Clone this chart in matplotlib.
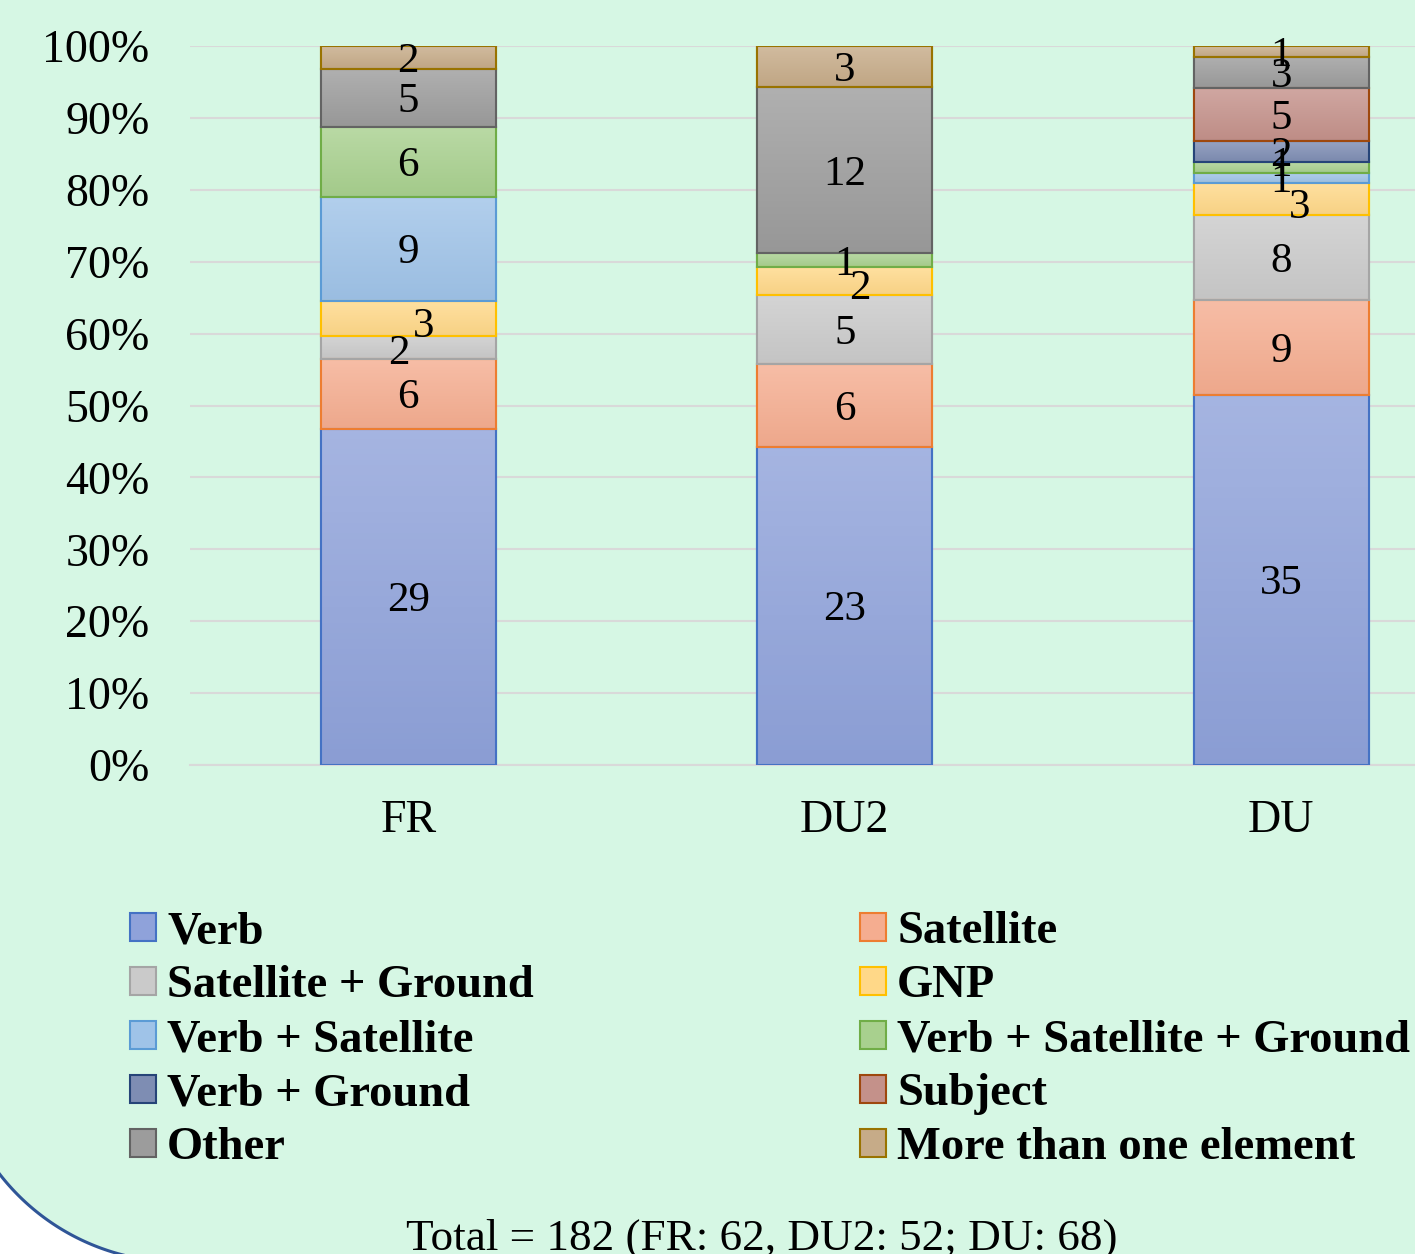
import numpy as np
import matplotlib
matplotlib.use('Agg')
import matplotlib.pyplot as plt
from matplotlib.patches import Patch, Polygon
from matplotlib.transforms import IdentityTransform
from matplotlib.colors import to_rgb

# data (counts per category)
categories = ['FR', 'DU2', 'DU']
series = ['Verb', 'Satellite', 'Satellite + Ground', 'GNP', 'Verb + Satellite',
          'Verb + Satellite + Ground', 'Verb + Ground', 'Subject', 'Other',
          'More than one element']
verb = [29, 23, 35]
satellite = [6, 6, 9]
sat_ground = [2, 5, 8]
gnp = [3, 2, 3]
verb_sat = [9, 0, 1]
verb_sat_ground = [6, 1, 1]
verb_ground = [0, 0, 2]
subject = [0, 0, 5]
other = [5, 12, 3]
more_than_one = [2, 3, 1]
footer = 'Total = 182 (FR: 62, DU2: 52; DU: 68)'

values = [verb, satellite, sat_ground, gnp, verb_sat, verb_sat_ground,
          verb_ground, subject, other, more_than_one]

fills = ['#8fa2da', '#f5ad90', '#cacaca', '#ffd888', '#9fc3e8', '#a8d08e',
         '#7e8db3', '#c4918a', '#9c9c9c', '#c6ab88']
edges = ['#4472c4', '#ed7d31', '#a5a5a5', '#ffc000', '#5b9bd5', '#70ad47',
         '#264478', '#9e480e', '#636363', '#997300']

# nudges (px) for crowded data labels: (category index, series index) -> (dx, dy)
nudges = {(0, 2): (-9, -2), (0, 3): (15, -4), (1, 3): (15, -4), (2, 3): (18, -4),
          (2, 5): (0, 6)}

bg = '#d6f7e4'
serif = ['Liberation Serif', 'DejaVu Serif']
plt.rcParams['font.family'] = serif

W, H = 1415, 1254
fig = plt.figure(figsize=(14.15, 12.54), dpi=100, facecolor=bg)

# white slide corner with a rounded blue border at the lower left
cx, cy, r = 179, H - 1035, 227
th = np.linspace(np.pi, 1.5 * np.pi, 100)
arc = np.column_stack([cx + r * np.cos(th), cy + r * np.sin(th)])
corner = np.vstack([arc, [[cx - r, cy - r]]])
fig.patches.append(Polygon(corner, closed=True, transform=IdentityTransform(),
                           facecolor='white', edgecolor='none', zorder=-10))
fig.lines.append(plt.Line2D(arc[:, 0], arc[:, 1], transform=IdentityTransform(),
                            color='#2f5597', lw=2.2, zorder=-9))

ax = fig.add_axes([190 / W, (H - 765) / H, 1309.5 / W, 719 / H])
ax.set_facecolor('none')

x = np.arange(len(categories))
totals = np.sum(np.array(values), axis=0)
bottom = np.zeros(len(categories))
width = 0.40


def lighten(c, f):
    rgb = np.array(to_rgb(c))
    return rgb + (1 - rgb) * f


for si, vals in enumerate(values):
    pct = np.array(vals) / totals * 100
    bars = ax.bar(x, pct, width, bottom=bottom, color=fills[si],
                  edgecolor=edges[si], linewidth=1.5, zorder=3)
    top_c = lighten(fills[si], 0.2)
    bot_c = np.array(to_rgb(fills[si])) * 0.97
    grad = np.linspace(0, 1, 64)[:, None, None]
    img = top_c * (1 - grad) + bot_c * grad
    for ci, b in enumerate(bars):
        if vals[ci] == 0:
            continue
        im = ax.imshow(img, extent=[b.get_x(), b.get_x() + width,
                                    b.get_y(), b.get_y() + b.get_height()],
                       aspect='auto', origin='upper', zorder=3.1)
        im.set_clip_path(b)
        ax.bar(x[ci], pct[ci], width, bottom=bottom[ci], color='none',
               edgecolor=edges[si], linewidth=1.5, zorder=3.2)
        dx, dy = nudges.get((ci, si), (0, 0))
        ax.annotate(str(vals[ci]), (x[ci], bottom[ci] + pct[ci] / 2),
                    xytext=(dx * 0.72, (dy - 4) * 0.72), textcoords='offset points',
                    ha='center', va='center', fontsize=31, color='black',
                    zorder=5)
    bottom += pct

ax.set_xlim(-0.5, 2.5)
ax.set_ylim(0, 100)
ax.set_yticks(np.arange(0, 101, 10))
ax.set_yticklabels([f'{v}%' for v in range(0, 101, 10)], fontsize=33)
ax.set_xticks(x)
ax.set_xticklabels(categories, fontsize=33)
ax.tick_params(axis='y', length=0, pad=29)
ax.tick_params(axis='x', length=0, pad=25)
ax.grid(axis='y', color='#d9d9d9', lw=1.5, zorder=0)
ax.set_axisbelow(True)
for s in ['left', 'right', 'top']:
    ax.spines[s].set_visible(False)
ax.spines['bottom'].set_color('#d9d9d9')
ax.spines['bottom'].set_linewidth(1.5)

# legend, two columns placed separately
handles = [Patch(facecolor=fills[i], edgecolor=edges[i], lw=1.5) for i in range(len(series))]
col1 = [0, 2, 4, 6, 8]
col2 = [1, 3, 5, 7, 9]
for cols, xpos in [(col1, 130), (col2, 860)]:
    leg = fig.legend([handles[i] for i in cols], [series[i] for i in cols],
                     loc='upper left', bbox_to_anchor=(xpos / W, (H - 911) / H),
                     frameon=False, prop={'family': serif, 'weight': 'bold', 'size': 33.5},
                     handlelength=0.55, handleheight=0.55, handletextpad=0.25,
                     labelspacing=0.26, borderpad=0, borderaxespad=0)

fig.text(762 / W, (H - 1239) / H, footer, ha='center', va='center', fontsize=32.5)

fig.savefig('out.png', dpi=100, facecolor=bg)
